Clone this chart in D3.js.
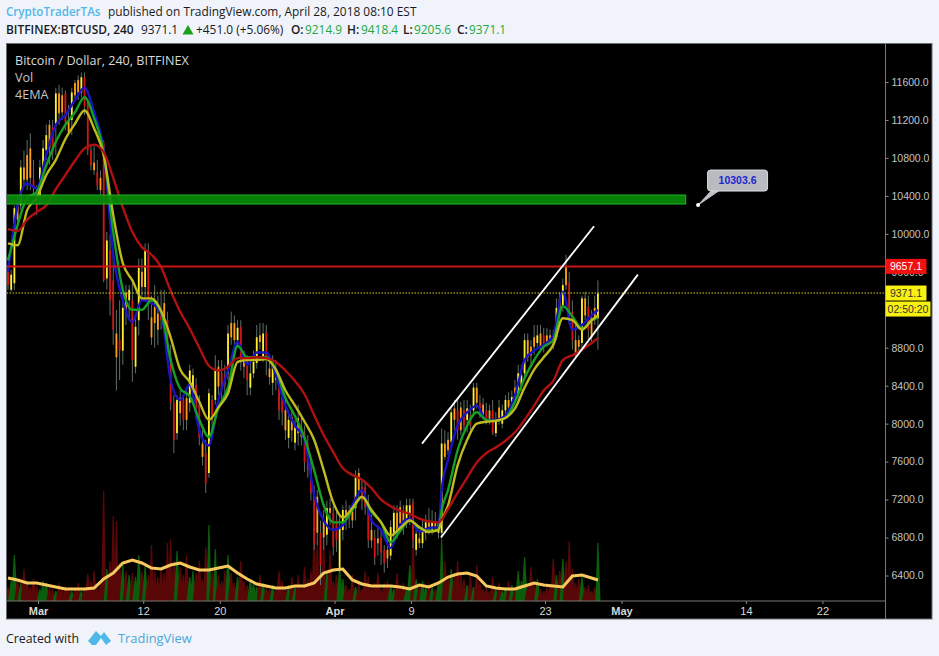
<!DOCTYPE html>
<html><head><meta charset="utf-8">
<script src="https://cdn.jsdelivr.net/npm/d3@7"></script>
<style>html,body{margin:0;padding:0;background:#f0f3fa;overflow:hidden}svg{display:block}</style>
</head><body><svg id="c" width="939" height="656"></svg>
<script>
// candle tones: Y = rising, O = small fall, R = falling
const tones = ["R","Y","Y","O","Y","O","O","O","R","R","Y","Y","Y","O","R","Y","O","O","R","O",
"Y","O","O","Y","R","R","R","O","R","O","R","Y","R","R","O","R","Y","O","Y","R",
"Y","Y","O","Y","R","O","O","O","R","O","R","R","R","Y","O","R","O","Y","Y","R",
"R","O","R","Y","R","Y","O","R","R","Y","O","O","Y","R","O","R","Y","Y","Y","O",
"Y","R","O","Y","O","R","R","O","Y","O","Y","O","O","R","R","R","R","O","R","O",
"Y","O","R","R","Y","Y","O","R","O","Y","O","R","R","R","O","R","O","R","R","O",
"Y","Y","O","O","O","Y","Y","R","Y","O","Y","Y","O","Y","O","Y","Y","O","O","Y",
"O","R","O","R","Y","R","Y","O","R","O","R","O","R","Y","O","Y","Y","O","Y","O",
"Y","Y","Y","O","O","O","Y","O","R","O","O","R","Y","O","Y","O","R","R","O","O",
"Y","O","R","O","O","Y"];
const bodyUpper = [9620,9570,10270,10300,10700,10700,10830,10900,10570,10390,10700,10900,11040,11150,11120,11480,11480,11460,11480,11200,
11490,11590,11620,11650,11650,11380,10880,10750,10650,10590,10960,9930,9830,9510,8950,8880,9220,9380,9410,9300,
9020,9640,9600,9830,9780,9120,9230,9160,9200,9270,9090,8700,8220,8250,8270,8250,8270,8560,8510,8410,
8200,7790,7690,8320,8250,8560,8600,8530,8510,8950,9060,9060,9010,9020,8700,8640,8530,8650,8910,8930,
8950,8960,8580,8640,8560,8430,8300,8140,8040,8070,7960,8060,7960,7900,7790,7540,7270,7230,6850,6980,
7110,7110,7060,6980,6910,7090,7090,7060,7090,7430,7480,7330,7330,7160,6880,6800,6790,6800,6670,6670,
6910,7060,7060,7120,7070,7140,7140,7170,6840,6790,6880,6960,6960,6960,6960,6950,7790,7790,7830,8120,
8160,8140,8170,8140,8160,8090,8380,8380,8220,8200,8140,8140,8140,8040,8170,8140,8250,8250,8280,8380,
8530,8510,8880,8880,8810,8910,8930,8950,8930,8930,8930,8910,9220,9320,9460,9650,9480,9180,8880,8880,
9320,9320,9230,9110,9220,9371];
const bodyLower = [9460,9410,9480,10150,10300,10570,10570,10590,10480,10250,10390,10700,10880,10900,10850,11150,11270,11280,11180,11070,
11200,11460,11490,11490,11340,10880,10720,10670,10510,10460,9510,9530,9300,8990,8700,8770,8770,9200,9300,8670,
8600,9090,9440,9440,9300,8910,9060,8990,9090,9120,8830,8220,7830,7900,8110,8040,8040,8220,8300,8140,
7850,7650,7370,7480,8040,8250,8390,8350,8410,8530,8910,8880,8880,8700,8600,8460,8380,8530,8640,8860,
8700,8700,8490,8430,8460,8140,8120,7930,7850,7930,7800,7900,7860,7590,7510,7270,6740,6850,6510,6800,
6830,7060,6700,6770,6480,6880,6980,7000,6980,7110,7300,7190,7120,6770,6770,6590,6740,6640,6530,6580,
6610,6850,6880,6950,6930,6980,7040,6770,6670,6740,6740,6850,6880,6880,6900,6850,6850,7650,7720,7810,
8040,7930,7930,7980,8040,7980,8140,8220,8110,8090,8040,8040,7900,7900,8040,8000,8140,8170,8200,8280,
8320,8410,8530,8700,8720,8810,8850,8810,8830,8860,8880,8830,8910,9220,9250,9460,9120,8880,8740,8810,
8850,9140,8990,8910,9090,9110];
const highs = [9670,9620,10300,10410,10780,10880,10990,11060,10780,10510,10780,10990,11150,11200,11200,11540,11570,11540,11510,11360,
11540,11620,11670,11700,11700,11410,10940,10940,10780,10670,10990,10020,9990,9830,9200,9300,9300,9460,9460,9510,
9140,9740,9740,9900,9900,9350,9460,9350,9410,9410,9180,8830,8300,8300,8350,8300,8350,8620,8580,8480,
8300,7930,7830,8370,8300,8720,8670,8670,8620,9040,9180,9140,9090,9090,8770,8720,8670,8770,9040,9060,
9060,9040,8720,8720,8670,8510,8410,8250,8140,8140,8040,8200,8090,7980,7880,7610,7350,7300,6980,7090,
7190,7210,7140,7090,7040,7140,7190,7140,7140,7510,7530,7400,7400,7250,7040,6880,6930,6880,6720,6770,
6980,7140,7140,7190,7140,7210,7210,7210,6930,6880,6980,7040,7110,7090,7070,7000,7950,7930,7910,8160,
8250,8270,8230,8250,8250,8200,8430,8430,8300,8270,8220,8200,8250,8120,8250,8200,8300,8330,8350,8460,
8620,8620,8950,8950,8880,9040,9040,9040,9010,9010,8990,8990,9320,9380,9530,9780,9600,9300,9090,8930,
9350,9390,9350,9200,9350,9510];
const lows = [9410,9390,9410,10090,10250,10510,10460,10460,10410,10200,10300,10620,10780,10730,10780,10830,11150,11200,11090,11040,
11040,11410,11410,11440,11250,10830,10670,10620,10460,10410,9490,9410,9140,8830,8350,8460,8620,9040,9090,8440,
8530,8930,9300,9300,9090,8830,8800,8830,8990,9040,8670,8140,7690,7830,7980,7930,7930,8120,8200,8040,
7770,7560,7270,7430,7930,8200,8300,8250,8300,8460,8830,8780,8800,8560,8480,8300,8300,8480,8580,8780,
8650,8510,8410,8300,8350,8040,7980,7830,7740,7810,7720,7770,7770,7490,7430,7190,6670,6720,6300,6670,
6720,6930,6610,6650,6430,6770,6880,6900,6900,6980,7190,7090,7040,6690,6690,6510,6610,6510,6430,6480,
6560,6770,6790,6880,6830,6900,6930,6690,6610,6690,6690,6770,6830,6830,6880,6790,6790,7620,7670,7740,
7930,7830,7880,7930,7910,7930,8090,8160,8060,8040,7990,7990,7880,7860,7990,7950,8090,8120,8120,8230,
8270,8350,8480,8650,8620,8720,8800,8750,8750,8810,8830,8780,8880,9140,9180,9410,9040,8780,8690,8720,
8780,9090,8880,8860,9040,8780];
const volumes = [14,20,46,22,18,32,20,14,22,15,12,20,18,14,12,10,18,12,15,14,
10,12,18,10,14,27,20,30,15,20,110,32,40,85,80,38,36,30,26,28,
24,46,30,35,26,56,30,24,32,28,58,62,40,50,34,26,46,24,30,28,
40,22,54,76,30,52,26,20,30,46,28,18,24,40,20,16,22,18,14,26,
18,14,12,16,12,30,20,12,16,24,14,26,14,34,22,30,72,60,40,62,
30,50,20,26,34,22,16,12,26,14,18,12,30,24,14,18,28,12,18,20,
16,12,28,14,18,12,36,68,22,16,20,14,18,14,12,20,62,40,24,32,
28,40,26,22,16,26,14,36,18,12,14,10,24,12,18,10,14,20,16,12,
30,20,44,14,34,18,22,12,10,14,16,42,26,30,42,40,60,32,18,22,
24,14,16,10,14,58];

// indicator samples: bar number of each reading
const sampleBars = [0,3,6,9,12,15,18,21,24,27,30,33,36,39,42,45,48,51,54,57,60,63,66,69,72,75,78,81,84,87,90,93,96,99,102,105,108,111,114,117,120,123,126,129,132,135,136,138,141,144,147,150,153,156,159,162,165,168,171,174,177,180,183,185];
const emaBlue = [9600,10300,10530,10480,10830,11150,11250,11410,11540,11280,10880,9780,9300,9070,9300,9270,9160,8460,8250,8410,7930,7770,8250,8560,8860,8620,8750,8750,8510,8190,7980,7830,7250,6980,6880,6930,7140,7300,6980,6880,6690,6930,7000,6860,6900,6910,7300,7620,7980,8120,8190,8040,8040,8090,8300,8670,8770,8830,8930,9390,8990,9040,9140,9200];
const emaGreen = [9720,10090,10380,10440,10720,10970,11150,11280,11440,11220,10860,10020,9410,9200,9200,9300,9180,8670,8370,8290,8040,7860,8170,8380,8820,8700,8700,8700,8570,8270,8080,7850,7510,7140,6960,6960,7090,7230,7070,6960,6750,6870,6980,6900,6870,6880,7090,7300,7720,7980,8120,8040,8030,8060,8230,8480,8670,8810,8880,9240,9130,9000,9090,9120];
const emaYellow = [9900,9880,10250,10380,10620,10780,11000,11160,11300,11110,10830,10200,9690,9510,9320,9320,9190,8910,8570,8440,8230,8040,8170,8320,8650,8670,8670,8680,8570,8350,8190,8020,7830,7510,7170,7010,7110,7230,7090,6960,6820,6900,6980,6910,6860,6880,6980,7140,7560,7830,8000,8020,8030,8060,8160,8380,8570,8700,8830,9110,9090,8990,9090,9140];
const emaRed = [10050,10030,10150,10230,10300,10470,10620,10770,10900,10940,10860,10590,10280,10020,9860,9780,9650,9400,9180,9000,8800,8610,8560,8600,8690,8690,8700,8690,8650,8560,8450,8310,8090,7880,7700,7530,7460,7410,7320,7200,7130,7080,7050,7000,6970,6960,6990,7100,7270,7430,7590,7690,7750,7820,7910,8040,8190,8350,8450,8670,8720,8780,8850,8900];
const volumeAverage = [23,21,18,18,16,14,12,12,12,13,22,28,38,41,38,33,32,36,38,34,31,31,33,35,28,22,17,15,13,13,15,15,18,28,31,32,21,17,15,15,15,14,12,16,14,18,20,24,27,28,25,15,13,12,12,15,18,16,15,14,25,26,23,21];

const priceTicks = [6400,6800,7200,7600,8000,8400,8800,9600,10000,10400,10800,11200,11600];
const dateTicks = [[2018,2,1,"Mar"],[2018,2,12,"12"],[2018,2,20,"20"],[2018,3,1,"Apr"],[2018,3,9,"9"],[2018,3,23,"23"],[2018,4,1,"May"],[2018,4,14,"14"],[2018,4,22,"22"]];
const lastPrice = 9371.1, resistance = 9657.1, calloutPrice = 10303.6;
const zoneTop = 10409, zoneBottom = 10314;
const upperChannel = [[Date.UTC(2018,3,10,3,30),7790],[Date.UTC(2018,3,28,3),10080]];
const lowerChannel = [[Date.UTC(2018,3,12,3),6800],[Date.UTC(2018,4,2,17),9570]];
const zoneEnd = Date.UTC(2018,4,7,17), calloutDate = Date.UTC(2018,4,9);

const svg = d3.select("#c");
const sans = "'Open Sans','Noto Sans',sans-serif", ar = "'Liberation Sans',Arial,sans-serif";
const x = d3.scaleUtc().domain([Date.UTC(2018,2,1),Date.UTC(2018,3,23)]).range([38,545]);
const y = d3.scaleLinear().domain([6400,11600]).range([575.5,82]);
const v = d3.scaleLinear().domain([0,120]).range([601,481]);
const firstBar = Date.UTC(2018,1,25,20,45), barStep = 8*3600e3;
const bx = i => x(firstBar + i*barStep);
const L=6.5,R=885.5,T=43.5,B=601,RR=932,BB=619;

svg.append("rect").attr("x",L).attr("y",T).attr("width",RR-L).attr("height",BB-T).attr("fill","#000").attr("stroke","#6b6f74");
svg.append("clipPath").attr("id","pl").append("rect").attr("x",L+.5).attr("y",T+.5).attr("width",R-L-.5).attr("height",B-T-.5);
const plot = svg.append("g").attr("clip-path","url(#pl)");

// volume: tapered spikes
plot.append("g").selectAll("path").data(volumes).join("path")
  .attr("d",(d,i)=>{const c=bx(i),w=d>50?2.6:3.2;return `M${c-w},${v(0)}L${c-.6},${v(d)}L${c+.6},${v(d)}L${c+w},${v(0)}Z`;})
  .attr("fill",(d,i)=>tones[i]==="Y"?"#0b5c0b":"#5a0707");

// candles
const cg = plot.append("g");
cg.selectAll("line").data(highs).join("line")
  .attr("x1",(d,i)=>bx(i)).attr("x2",(d,i)=>bx(i)).attr("y1",d=>y(d)).attr("y2",(d,i)=>y(lows[i]))
  .attr("stroke","#5d6f66").attr("stroke-width",1);
const toneFill = {Y:"#fff02a",O:"#ff9e18",R:"#d41414"};
cg.selectAll("rect").data(bodyUpper).join("rect")
  .attr("x",(d,i)=>bx(i)-.9).attr("width",1.8).attr("y",d=>y(d))
  .attr("height",(d,i)=>Math.max(1,y(bodyLower[i])-y(d)))
  .attr("fill",(d,i)=>toneFill[tones[i]]);

// averages
const line = d3.line().x((d,i)=>bx(sampleBars[i])).y(d=>y(d)).curve(d3.curveMonotoneX);
[[emaBlue,"#1a14c4"],[emaGreen,"#14a024"],[emaYellow,"#bdbb1e"],[emaRed,"#b01010"]].forEach(([s,c])=>
  plot.append("path").attr("d",line(s)).attr("fill","none").attr("stroke",c).attr("stroke-width",2.4));
const vline = d3.line().x((d,i)=>bx(sampleBars[i])).y(d=>v(d));
plot.append("path").attr("d",vline(volumeAverage)).attr("fill","none").attr("stroke","#f7c95c").attr("stroke-width",3);

// zone and levels
plot.append("rect").attr("x",L).attr("width",x(zoneEnd)-L).attr("y",y(zoneTop)).attr("height",y(zoneBottom)-y(zoneTop))
  .attr("fill","#078a07").attr("fill-opacity",.93).attr("stroke","#22b622").attr("stroke-width",1);
plot.append("line").attr("x1",L).attr("x2",R).attr("y1",y(resistance)).attr("y2",y(resistance)).attr("stroke","#c81414").attr("stroke-width",2);
plot.append("line").attr("x1",L).attr("x2",R).attr("y1",y(lastPrice)-.5).attr("y2",y(lastPrice)-.5).attr("stroke","#d8d422").attr("stroke-width",1).attr("stroke-dasharray","1.5 1.5");
[upperChannel,lowerChannel].forEach(c=>plot.append("line").attr("x1",x(c[0][0])).attr("y1",y(c[0][1])).attr("x2",x(c[1][0])).attr("y2",y(c[1][1])).attr("stroke","#fff").attr("stroke-width",1.8));

// axes
const yAxis = d3.axisRight(y).tickValues(priceTicks).tickFormat(d3.format(".1f")).tickSize(3).tickPadding(3);
const gy = svg.append("g").attr("transform",`translate(${R},0)`).call(yAxis);
gy.select(".domain").attr("d",`M0,${T}V${BB}`).attr("stroke","#7a7a7a");
gy.selectAll(".tick line").attr("stroke","#8a8a8a");
gy.selectAll("text").attr("fill","#c4c4c4").attr("font-family",ar).attr("font-size",10.5);
const xAxis = d3.axisBottom(x).tickValues(dateTicks.map(d=>Date.UTC(d[0],d[1],d[2]))).tickFormat((d,i)=>dateTicks[i][3]).tickSize(3).tickPadding(3);
const gx = svg.append("g").attr("transform",`translate(0,${B})`).call(xAxis);
gx.select(".domain").attr("d",`M${L},0H${R}`).attr("stroke","#777");
gx.selectAll(".tick line").attr("stroke","#888");
gx.selectAll("text").attr("fill","#d8d8d8").attr("font-family",ar).attr("font-size",11)
  .attr("font-weight",(d,i)=>/[A-Z]/.test(dateTicks[i][3])?"bold":"normal");

// price labels
function tag(tx,fill,col,yc,w){
  svg.append("rect").attr("x",R).attr("y",yc-7.5).attr("width",w).attr("height",15).attr("fill",fill);
  svg.append("text").attr("x",R+w/2).attr("y",yc+4).attr("text-anchor","middle").attr("font-family",ar).attr("font-size",10.5).attr("fill",col).text(tx);
}
tag(d3.format(".1f")(resistance),"#f01010","#fff",y(resistance),41);
tag(d3.format(".1f")(lastPrice),"#f8f010","#333",y(lastPrice)-.5,41);
tag("02:50:20","#f8f010","#333",y(lastPrice)+15.5,45);

// callout
const cx=x(calloutDate), cy=y(calloutPrice);
svg.append("path").attr("d",`M${cx},${cy}L${cx+14},${cy-15}L${cx+22},${cy-15}Z`).attr("fill","#c0c3c8").attr("stroke","#c0c3c8");
svg.append("rect").attr("x",cx+9.5).attr("y",cy-35).attr("width",60).attr("height",21).attr("rx",3).attr("fill","#b8bbc0").attr("stroke","#d8dade");
svg.append("circle").attr("cx",cx).attr("cy",cy).attr("r",2).attr("fill","#fff");
svg.append("text").attr("x",cx+39.5).attr("y",cy-21).attr("text-anchor","middle").attr("font-family",ar).attr("font-weight","bold").attr("font-size",10.5).attr("fill","#2424d0").text(d3.format(".1f")(calloutPrice));

// chart legend
[["Bitcoin / Dollar, 240, BITFINEX",65],["Vol",82],["4EMA",99]].forEach(([t,yy])=>
  svg.append("text").attr("x",15).attr("y",yy).attr("font-family",sans).attr("font-size",12.6).attr("fill",t==="Vol"||t==="4EMA"?"#c4c4c4":"#d8d8d8").text(t));

// header
const hdr=(tx,xx,yy,o={})=>svg.append("text").attr("x",xx).attr("y",yy).attr("font-family",sans).attr("font-size",o.s||11.9).attr("font-weight",o.b?"600":"normal").attr("fill",o.c||"#1a1a1a").text(tx);
hdr("CryptoTraderTAs",6,16,{c:"#55b7e6",b:1,s:11.6});
hdr("published on TradingView.com, April 28, 2018 08:10 EST",108,16);
hdr("BITFINEX:BTCUSD, 240",6,34,{b:1});
hdr("9371.1",141,34);
svg.append("path").attr("d","M188,25L193.5,34.5H182.5Z").attr("fill","#1aa01a");
hdr("+451.0 (+5.06%)",196,34);
[["O:",291,"9214.9",305],["H:",347,"9418.4",361],["L:",403,"9205.6",414],["C:",457,"9371.1",469]].forEach(r=>{hdr(r[0],r[1],34,{b:1});hdr(r[2],r[3],34,{c:"#22a83c"});});

// footer
hdr("Created with",6,643,{s:12.3});
svg.append("path").attr("d","M88,641L96,631L101,636L104,632L111,641L106,645L101,638L96,645L92,645Z").attr("fill","#4eb9e8");
hdr("TradingView",118,643,{s:12.9,c:"#4aa8d8"});
</script></body></html>
